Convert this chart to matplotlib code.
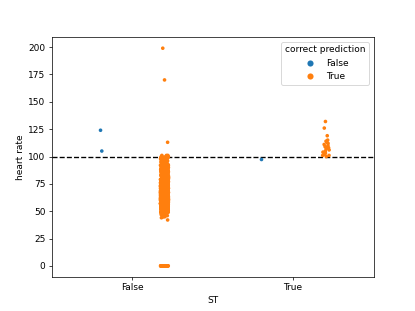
import numpy as np
import pandas as pd
import matplotlib
matplotlib.use("Agg")
import matplotlib.pyplot as plt
import seaborn as sns

# heart rate readings, split by ST and whether the prediction was correct
st_false_wrong = [124, 105]
st_false_right_outliers = [199, 170, 113, 42, 44]
st_false_right_zeros = [0] * 30
# dense body of the ST=False / correct group: value -> how many records
body_values = list(range(45, 102))
body_counts = [4, 6, 8, 10, 12, 14, 16, 18, 20, 22,
               24, 26, 28, 28, 30, 30, 32, 32, 32, 32,
               32, 32, 32, 30, 30, 30, 28, 28, 26, 26,
               24, 24, 22, 22, 20, 20, 18, 18, 16, 16,
               14, 14, 14, 12, 12, 12, 10, 10, 10, 10,
               8, 8, 8, 8, 8, 6, 3]
st_true_wrong = [98]
st_true_right = [132, 126, 119, 115, 114, 113, 112, 111, 110, 109,
                 108, 108, 107, 106, 105, 104, 103, 102, 101, 101, 100]
threshold = 100

body = [v for v, c in zip(body_values, body_counts) for _ in range(c)]
st_false_right = st_false_right_outliers + st_false_right_zeros + body

rows = []
for v in st_false_wrong:
    rows.append((False, v, False))
for v in st_false_right:
    rows.append((False, v, True))
for v in st_true_wrong:
    rows.append((True, v, False))
for v in st_true_right:
    rows.append((True, v, True))
df = pd.DataFrame(rows, columns=["ST", "heart rate", "correct prediction"])

np.random.seed(3)
fig, ax = plt.subplots(figsize=(415 / 65, 311 / 65), dpi=65)
sns.stripplot(data=df, x="ST", y="heart rate", hue="correct prediction",
              order=[False, True], hue_order=[False, True],
              dodge=True, jitter=0.05, size=4, linewidth=0, ax=ax)
ax.axhline(threshold, color="black", linestyle="--", linewidth=1.5)
ax.legend(title="correct prediction", loc="upper right", markerscale=1.7)
ax.set_xticks([0, 1])
ax.set_xticklabels(["False", "True"])

fig.savefig("out.png", dpi=65)
